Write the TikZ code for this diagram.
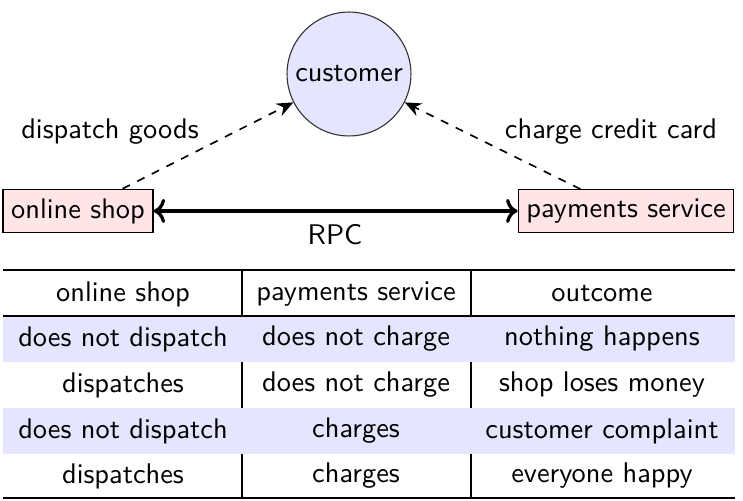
\documentclass[tikz,border=0pt]{standalone}
\usetikzlibrary{arrows.meta,calc}
\renewcommand{\familydefault}{\sfdefault}
\begin{document}
\begin{tikzpicture}[x=0.3663pt,y=-0.3663pt,
  every node/.style={font=\sffamily\fontsize{10.4}{12.5}\selectfont},
  cust/.style={circle,draw=black!80,fill=blue!10,inner sep=0pt,minimum size=45.4pt},
  svc/.style={rectangle,draw=black,fill=red!10,inner xsep=3pt},
  msg/.style={dashed,semithick,-{Stealth[length=6pt,width=5pt]}},
  rpc/.style={very thick,<->},
  rowfill/.style={fill=blue!10,draw=none},
  cell/.style={inner sep=0pt,anchor=center},
  vrule/.style={draw=black,line width=0.4pt}]
\useasboundingbox (0,0) rectangle (743,501);
% diagram
\node[cust] (cust) at (349,74) {customer};
\node[svc] (shop) at (78,211) {online shop};
\node[svc] (pay) at (626,211) {payments service};
\coordinate (shopout) at ($(shop.north)!0.59!(shop.north east)$);
\coordinate (payout) at ($(pay.north)!0.42!(pay.north west)$);
\draw[msg] (shopout) -- (cust.207);
\draw[msg] (payout) -- (cust.333);
\draw[rpc] (shop) -- (pay);
\node (lgoods) at (110,132) {dispatch goods};
\node (lcharge) at (611,132) {charge credit card};
\node (lrpc) at (335,235) {RPC};
% table
\fill[rowfill] (3,316) rectangle (735,362);
\fill[rowfill] (3,408) rectangle (735,454);
\draw[line width=0.8pt] (3,270) -- (735,270);
\draw[line width=0.5pt] (3,316) -- (735,316);
\draw[line width=0.8pt] (3,498) -- (735,498);
\foreach \x in {242,471}{
  \draw[vrule] (\x,270) -- (\x,316);
  \draw[vrule] (\x,362) -- (\x,408);
  \draw[vrule] (\x,454) -- (\x,498);
}
\node[cell] (h1) at (123,294) {online shop};
\node[cell] (h2) at (356,294) {payments service};
\node[cell] (h3) at (602,294) {outcome};
\node[cell] (a1) at (123,339) {does not dispatch};
\node[cell] (a2) at (356,339) {does not charge};
\node[cell] (a3) at (602,339) {nothing happens};
\node[cell] (b1) at (123,385) {dispatches};
\node[cell] (b2) at (356,385) {does not charge};
\node[cell] (b3) at (602,385) {shop loses money};
\node[cell] (c1) at (123,431) {does not dispatch};
\node[cell] (c2) at (356,431) {charges};
\node[cell] (c3) at (602,431) {customer complaint};
\node[cell] (d1) at (123,476) {dispatches};
\node[cell] (d2) at (356,476) {charges};
\node[cell] (d3) at (602,476) {everyone happy};
\end{tikzpicture}
\end{document}
